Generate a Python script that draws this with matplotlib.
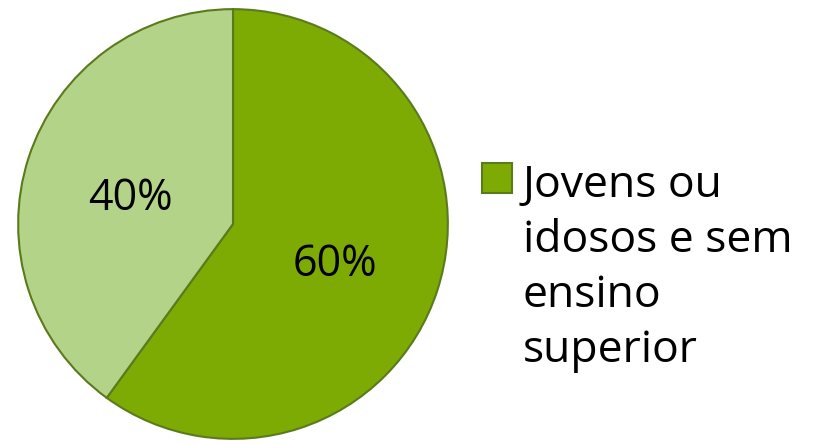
import matplotlib.pyplot as plt
import matplotlib.transforms as mtransforms

# data
labels = ["Jovens ou\nidosos e sem\nensino\nsuperior", "Outros"]
values = [60, 40]
colors = ["#7dab04", "#b3d488"]

plt.rcParams['font.family'] = ['Open Sans', 'DejaVu Sans']

fig = plt.figure(figsize=(8.30, 4.44), dpi=100)

# pie area: centre ~ (233, 224) px, radius ~ 217 px
cx, cy, r = 233, 224, 217
ax = fig.add_axes([(cx - r) / 830, (444 - cy - r) / 444, 2 * r / 830, 2 * r / 444])

wedges, texts, autotexts = ax.pie(
    values, colors=colors, startangle=90, counterclock=False,
    autopct='%1.0f%%', pctdistance=0.5,
    wedgeprops=dict(edgecolor="#5b7a1c", linewidth=1.5),
    textprops=dict(fontsize=31, color="black"),
)
ax.set_xlim(-1.01, 1.01)
ax.set_ylim(-1.01, 1.01)
ax.set_aspect('equal')

# nudge the percentages down a little (digits have no descender)
shift = mtransforms.ScaledTranslation(0, -8 / 100, fig.dpi_scale_trans)
for t in autotexts:
    t.set_transform(t.get_transform() + shift)

# only the first category shows in the legend
leg = fig.legend([wedges[0]], [labels[0]], loc='upper left',
                 bbox_to_anchor=(460 / 830, 1 - 141 / 444),
                 frameon=False, fontsize=32, handlelength=0.66,
                 handleheight=0.66, handletextpad=0.25, labelspacing=0,
                 borderpad=0)
leg.get_texts()[0].set_linespacing(1.32)
# put the square next to the first line
for col in leg._legend_handle_box.get_children():
    for row in col.get_children():
        row.align = 'top'

fig.savefig("out.png", dpi=100)
